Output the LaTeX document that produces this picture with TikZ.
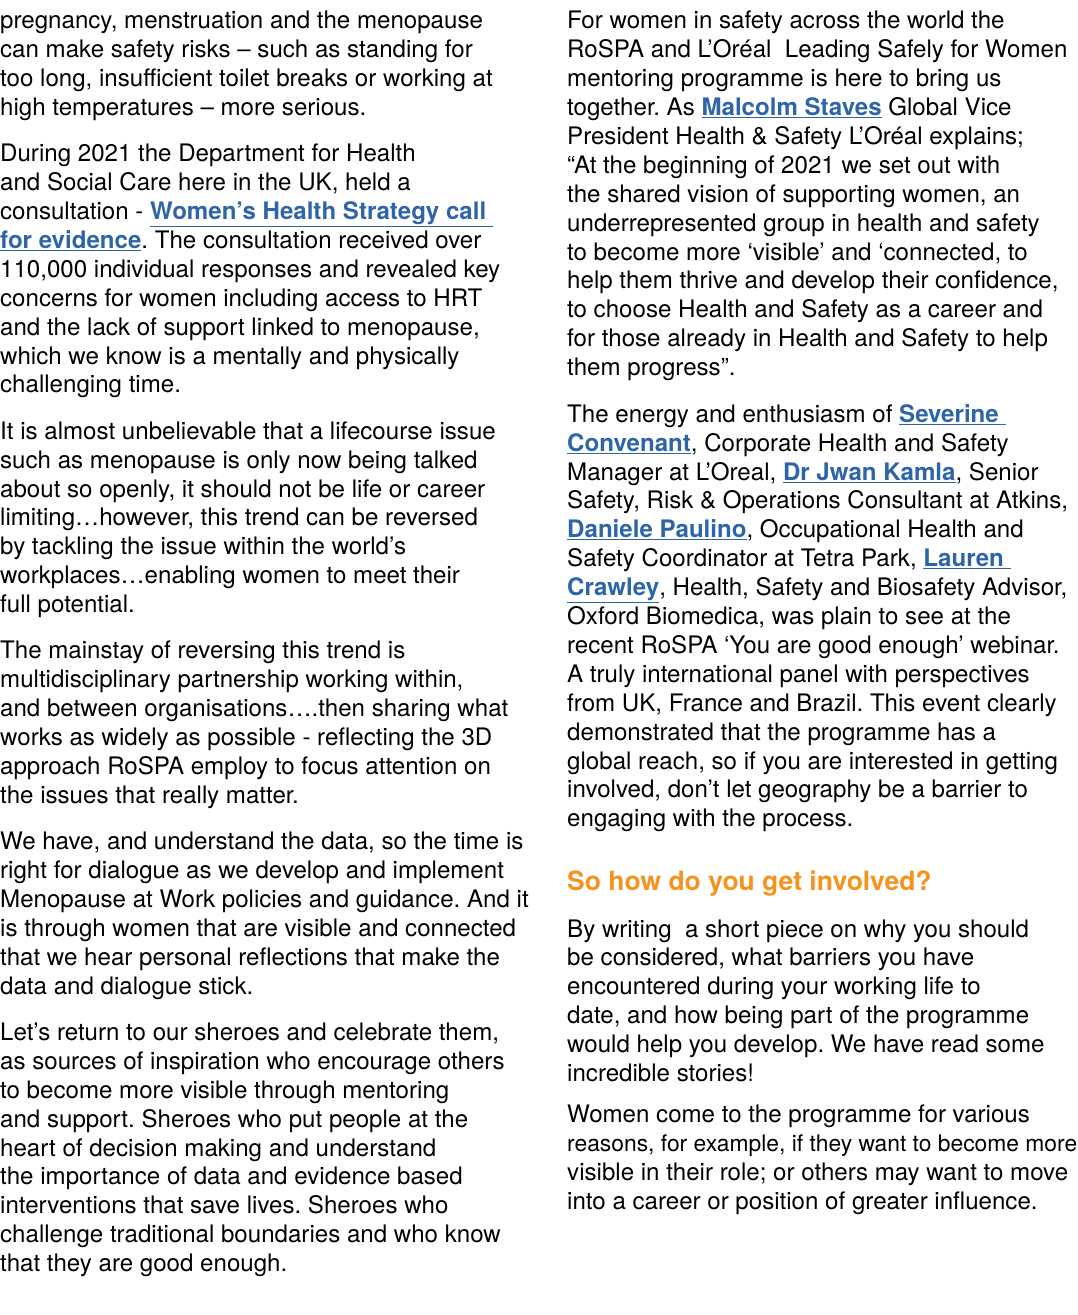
\documentclass[tikz,border=0pt]{standalone}
\usepackage{fontspec}
\setmainfont{TeX Gyre Heros}
\usetikzlibrary{positioning}
\definecolor{linkblue}{HTML}{2E65A8}
\definecolor{headorange}{HTML}{F6931E}
\newcommand{\bodyfont}{\fontsize{24.1}{28.9}\selectfont\frenchspacing}
\newcommand{\lnk}[1]{\textcolor{linkblue}{\bfseries\underline{#1}}}
\tikzset{
  para/.style={anchor=north west, align=left, inner sep=0pt, font=\bodyfont},
  gap/.style={below=23pt of #1.south west, anchor=north west}
}
\begin{document}
\begin{tikzpicture}[x=1pt,y=1pt]
        \useasboundingbox (0,0) rectangle (1078,-1315);

        % left column
        \node[para] (l1) at (0,-11) {pregnancy, menstruation and the menopause\\can make safety risks -- such as standing for\\too long, insufficient toilet breaks or working at\\high temperatures -- more serious.};
        \node[para, gap=l1] (l2) {During 2021 the Department for Health\\and Social Care here in the UK, held a\\consultation - \lnk{Women's Health Strategy call }\\\lnk{for evidence}. The consultation received over\\110,000 individual responses and revealed key\\concerns for women including access to HRT\\and the lack of support linked to menopause,\\which we know is a mentally and physically\\challenging time.};
        \node[para, gap=l2] (l3) {It is almost unbelievable that a lifecourse issue\\such as menopause is only now being talked\\about so openly, it should not be life or career\\limiting\ldots however, this trend can be reversed\\by tackling the issue within the world's\\workplaces\ldots enabling women to meet their\\full potential.};
        \node[para, gap=l3] (l4) {The mainstay of reversing this trend is\\multidisciplinary partnership working within,\\and between organisations\ldots.then sharing what\\works as widely as possible - reflecting the 3D\\approach RoSPA employ to focus attention on\\the issues that really matter.};
        \node[para, gap=l4] (l5) {We have, and understand the data, so the time is\\right for dialogue as we develop and implement\\Menopause at Work policies and guidance. And it\\is through women that are visible and connected\\that we hear personal reflections that make the\\data and dialogue stick.};
        \node[para, gap=l5] (l6) {Let's return to our sheroes and celebrate them,\\as sources of inspiration who encourage others\\to become more visible through mentoring\\and support. Sheroes who put people at the\\heart of decision making and understand\\the importance of data and evidence based\\interventions that save lives. Sheroes who\\challenge traditional boundaries and who know\\that they are good enough.};

        % right column
        \node[para] (r1) at (567,-11) {For women in safety across the world the\\RoSPA and L'Oréal\ \ Leading Safely for Women\\mentoring programme is here to bring us\\together. As \lnk{Malcolm Staves} Global Vice\\President Health \& Safety L'Oréal explains;\\``At the beginning of 2021 we set out with\\the shared vision of supporting women, an\\underrepresented group in health and safety\\to become more `visible' and `connected, to\\help them thrive and develop their confidence,\\to choose Health and Safety as a career and\\for those already in Health and Safety to help\\them progress''.};
        \node[para, gap=r1] (r2) {The energy and enthusiasm of \lnk{Severine }\\\lnk{Convenant}, Corporate Health and Safety\\Manager at L'Oreal, \lnk{Dr Jwan Kamla}, Senior\\Safety, Risk \& Operations Consultant at Atkins,\\\lnk{Daniele Paulino}, Occupational Health and\\Safety Coordinator at Tetra Park, \lnk{Lauren }\\\lnk{Crawley}, Health, Safety and Biosafety Advisor,\\Oxford Biomedica, was plain to see at the\\recent RoSPA `You are good enough' webinar.\\A truly international panel with perspectives\\from UK, France and Brazil. This event clearly\\demonstrated that the programme has a\\global reach, so if you are interested in getting\\involved, don't let geography be a barrier to\\engaging with the process.};
        \node[para, below=38pt of r2.south west, anchor=north west, font=\fontsize{26.5}{30}\selectfont\bfseries, text=headorange] (h1) {So how do you get involved?};
        \node[para, gap=h1] (r3) {By writing\ \ a short piece on why you should\\be considered, what barriers you have\\encountered during your working life to\\date, and how being part of the programme\\would help you develop. We have read some\\incredible stories!};
        \node[para, gap=r3] (r4) {Women come to the programme for various\\\resizebox{510pt}{!}{reasons, for example, if they want to become more}\\visible in their role; or others may want to move\\into a career or position of greater influence.};
\end{tikzpicture}
\end{document}
